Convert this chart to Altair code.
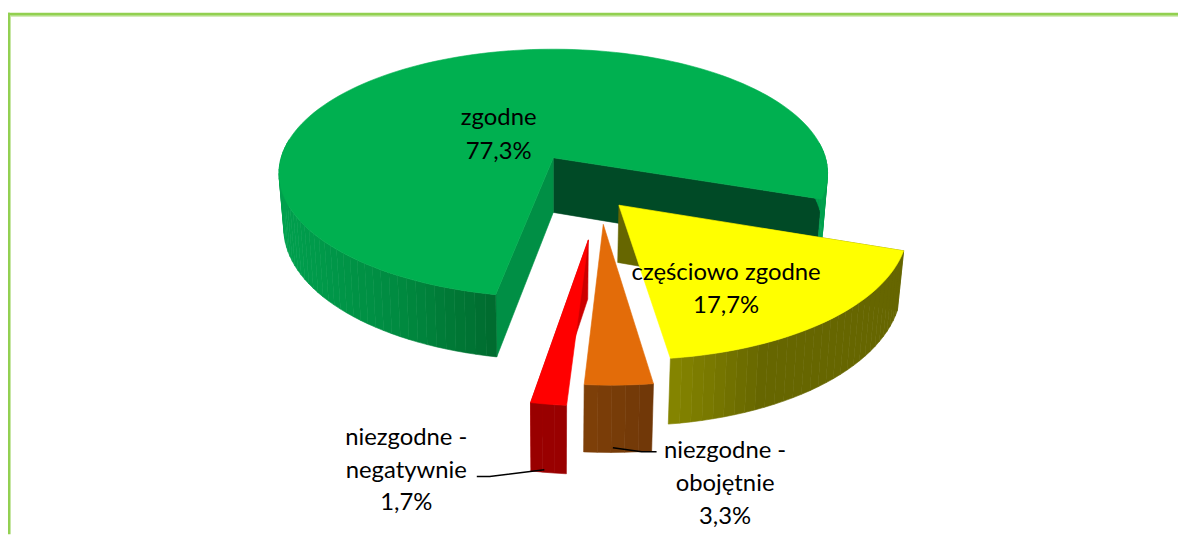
import math
import altair as alt
import pandas as pd

# --- chart values
categories = ["zgodne", "częściowo zgodne", "niezgodne - obojętnie", "niezgodne - negatywnie"]
values = [77.3, 17.7, 3.3, 1.7]
value_labels = ["77,3%", "17,7%", "3,3%", "1,7%"]

# --- styles
top_colors = ["#00B050", "#FFFF00", "#E36C09", "#FF0000"]
wall_stops = [
    [(285, "#00A04E"), (400, "#008A40"), (497, "#006B2E"), (498, "#00A04E"), (840, "#00A04E")],
    [(672, "#878700"), (770, "#666600"), (910, "#666600")],
    [(584, "#7F4008"), (654, "#703808")],
    [(531, "#990000"), (570, "#990000")],
]
cut_colors = [("#004A26", "#008F45"), (None, "#666600"), (None, None), ("#CC0000", None)]
frame_color = "#92D050"
frame_light = "#C6E6A3"

# --- 3D view of the pie
start_angle = -100.7
explode = [(0.0, 0.0), (0.23, -0.37), (0.172, -0.51), (0.119, -0.62)]
cx, cy, A, B, k, depth, squeeze = 557, 157, 123, 274, 0.125, 55, 0.018


def project(u, v, z=0):
    t = 1 / (1 + k * v)
    return cx + B * u * t * (1 - squeeze * z), cy - A * v * t + depth * t * z


def mix(stops, x):
    if x <= stops[0][0]:
        return stops[0][1]
    for (x0, c0), (x1, c1) in zip(stops, stops[1:]):
        if x <= x1:
            f = (x - x0) / max(x1 - x0, 1e-6)
            a = [int(c0[i:i + 2], 16) for i in (1, 3, 5)]
            b = [int(c1[i:i + 2], 16) for i in (1, 3, 5)]
            return "#%02X%02X%02X" % tuple(round(p + (q - p) * f) for p, q in zip(a, b))
    return stops[-1][1]


rows = []
counter = 0


def add_poly(points, color):
    global counter
    counter += 1
    name = f"p{counter:04d}"
    pts = list(points) + [points[0]]
    for i, (x, y) in enumerate(pts):
        rows.append({"piece": name, "seq": i, "px": x, "py": y, "c": color})


angle = start_angle
for idx, val in enumerate(values):
    a0 = angle
    a1 = angle - 3.6 * val
    angle = a1
    du, dv = explode[idx]
    n = max(2, int(abs(a1 - a0) / 2))
    angs = [math.radians(a0 + (a1 - a0) * i / n) for i in range(n + 1)]
    rim = [(du + math.cos(a), dv + math.sin(a)) for a in angs]

    # cut faces behind the wall and the top
    end_cut, start_cut = cut_colors[idx]
    if end_cut:
        u, v = rim[-1]
        add_poly([project(du, dv), project(u, v), project(u, v, 1), project(du, dv, 1)], end_cut)
    if start_cut:
        u, v = rim[0]
        add_poly([project(du, dv), project(u, v), project(u, v, 1), project(du, dv, 1)], start_cut)

    # outer wall, one shaded strip at a time
    for j, ((u0, v0), (u1, v1)) in enumerate(zip(rim, rim[1:])):
        if math.sin(angs[j]) > 0.15 and idx == 0:
            continue
        a, b = project(u0, v0), project(u1, v1)
        add_poly([a, b, project(u1, v1, 1), project(u0, v0, 1)], mix(wall_stops[idx], (a[0] + b[0]) / 2))

    # top face
    add_poly([project(du, dv)] + [project(u, v) for u, v in rim], top_colors[idx])

polys = pd.DataFrame(rows)

xs = alt.Scale(domain=[8, 1186], range=[0, 1178])
ys = alt.Scale(domain=[8, 536], reverse=True)
X = lambda f: alt.X(f, type="quantitative", scale=xs, axis=None)
Y = lambda f: alt.Y(f, type="quantitative", scale=ys, axis=None)

# --- annotation placement
label_rows = pd.DataFrame({
    "t": ["zgodne", value_labels[0], "częściowo zgodne", value_labels[1],
          "niezgodne -", "obojętnie", value_labels[2],
          "niezgodne -", "negatywnie", value_labels[3]],
    "lx": [502, 502, 731, 731, 730, 730, 730, 409, 409, 409],
    "ly": [117, 151, 273, 306, 452, 485, 519, 439, 472, 505],
})
leaders = pd.DataFrame({
    "g": ["a", "a", "a", "b", "b", "b"],
    "s": [0, 1, 2, 0, 1, 2],
    "lx": [480, 493, 548, 617, 646, 661],
    "ly": [478, 478, 471, 449, 453, 453],
})
frame = pd.DataFrame({
    "x0": [8, 8, 10, 10],
    "x1": [1186, 10, 1186, 11],
    "y0": [11, 11, 14, 14],
    "y1": [14, 536, 15, 536],
    "c": [frame_color, frame_color, frame_light, frame_light],
})

frame_layer = alt.Chart(frame).mark_rect().encode(
    x=X("x0"), x2="x1", y=Y("y0"), y2="y1",
    color=alt.Color("c:N", scale=None),
)
pie_layer = alt.Chart(polys).mark_line(strokeWidth=0.6, interpolate="linear").encode(
    x=X("px"), y=Y("py"),
    detail="piece:N",
    order="seq:Q",
    color=alt.Color("c:N", scale=None),
    fill=alt.Fill("c:N", scale=None),
)
leader_layer = alt.Chart(leaders).mark_line(color="black", strokeWidth=1.5).encode(
    x=X("lx"), y=Y("ly"), detail="g:N", order="s:Q",
)
text_layer = alt.Chart(label_rows).mark_text(
    font="Lato", fontSize=24, color="black", align="center", baseline="middle",
).encode(x=X("lx"), y=Y("ly"), text="t:N")

chart = (
    alt.layer(frame_layer, pie_layer, leader_layer, text_layer)
    .properties(width=1178, height=528, padding=0, background="white",
                autosize=alt.AutoSizeParams(type="none"))
    .configure_view(stroke=None)
)
chart.save("out.html", embed_options={"renderer": "svg", "actions": False})
